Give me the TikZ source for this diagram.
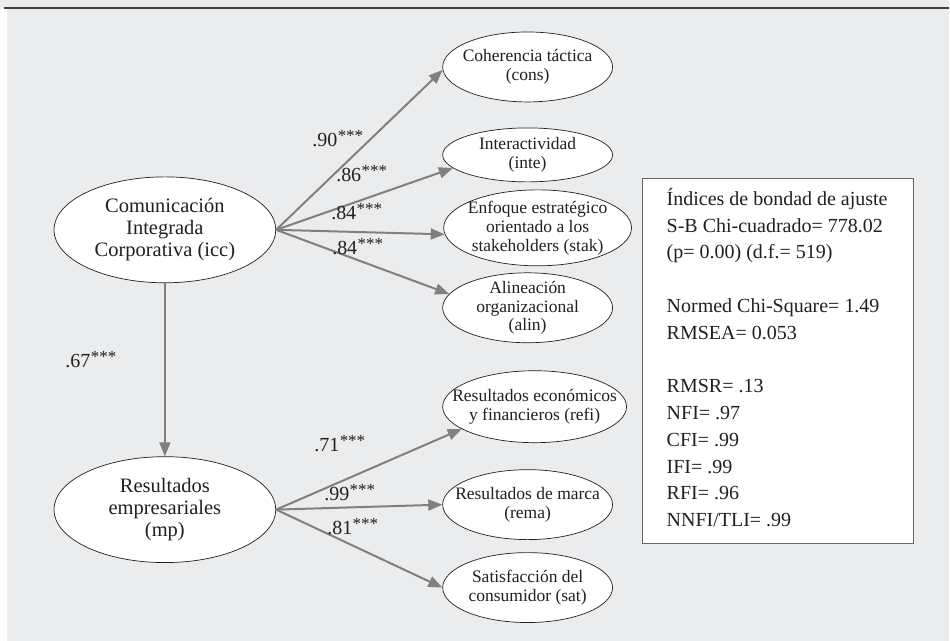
\documentclass[tikz,border=0pt]{standalone}
\usepackage{fontspec}
\setmainfont{Liberation Serif}
\usetikzlibrary{arrows.meta,shapes.geometric}
\definecolor{panel}{HTML}{EBECEE}
\definecolor{arrowgray}{HTML}{808080}
\definecolor{ink}{HTML}{231F20}
\definecolor{frame}{HTML}{666666}
% significance stars set as a raised superscript
\newcommand\sigstars{\kern0.5pt\raisebox{5pt}{\fontsize{17}{17}\selectfont***}}
\begin{document}
\begin{tikzpicture}[x=1pt,y=-1pt,
  latent/.style={ellipse,draw=ink,line width=0.7pt,fill=white,inner sep=0pt},
  ltext/.style={align=center,text=ink,inner sep=0pt,font=\fontsize{17.5}{19}\selectfont},
  btext/.style={align=center,text=ink,inner sep=0pt,font=\fontsize{20.5}{22}\selectfont},
  loading/.style={draw=arrowgray,line width=2pt,-{Triangle[length=14pt,width=11pt]}},
  coef/.style={text=ink,inner sep=0pt,font=\fontsize{20}{21}\selectfont}]
% panel background and rule
\fill[panel] (0,0) rectangle (950,641);
\fill[white] (0,9) rectangle (7,641);
\draw[ink!85,line width=1.4pt] (4,8) -- (950,8);
\useasboundingbox (0,0) rectangle (950,641);

% latent constructs
\node[latent,minimum width=222pt,minimum height=106pt] (icc) at (165,230) {};
\node[btext] at (icc) {Comunicación\\Integrada\\Corporativa (icc)};
\node[latent,minimum width=222pt,minimum height=106pt] (mp) at (165,510) {};
\node[btext] at (mp) {Resultados\\empresariales\\(mp)};

% indicators of icc
\node[latent,minimum width=170pt,minimum height=70pt] (cons) at (528,67) {};
\node[ltext] at (cons) {Coherencia táctica\\(cons)};
\node[latent,minimum width=170pt,minimum height=54pt] (inte) at (528,155) {};
\node[ltext] at (inte) {Interactividad\\(inte)};
\node[latent,minimum width=188pt,minimum height=76pt] (stak) at (538,228) {};
\node[ltext] at (stak) {Enfoque estratégico\\orientado a los\\stakeholders (stak)};
\node[latent,minimum width=170pt,minimum height=70pt] (alin) at (528,308) {};
\node[ltext] at (alin) {Alineación\\organizacional\\(alin)};

% indicators of mp
\node[latent,minimum width=184pt,minimum height=72pt] (refi) at (535,407) {};
\node[ltext] at (refi) {Resultados económicos\\y financieros (refi)};
\node[latent,minimum width=170pt,minimum height=70pt] (rema) at (528,505) {};
\node[ltext] at (rema) {Resultados de marca\\(rema)};
\node[latent,minimum width=170pt,minimum height=70pt] (sat) at (528,588) {};
\node[ltext] at (sat) {Satisfacción del\\consumidor (sat)};

% paths
\draw[loading] (icc.east) -- (cons.182);
\draw[loading] (icc.east) -- (inte.190);
\draw[loading] (icc.east) -- (stak.184);
\draw[loading] (icc.east) -- (alin.170);
\draw[loading] (icc.south) -- (mp.north);
\draw[loading] (mp.east) -- (refi.197);
\draw[loading] (mp.east) -- (rema.west);
\draw[loading] (mp.east) -- (sat.west);

% standardized coefficients
\node[coef] (c1) at (338,139) {.90\sigstars};
\node[coef] (c2) at (362,174) {.86\sigstars};
\node[coef] (c3) at (357,212) {.84\sigstars};
\node[coef] (c4) at (358,247) {.84\sigstars};
\node[coef] (c5) at (91,360) {.67\sigstars};
\node[coef] (c6) at (340,444) {.71\sigstars};
\node[coef] (c7) at (350,493) {.99\sigstars};
\node[coef] (c8) at (353,527) {.81\sigstars};

% goodness-of-fit box
\node[draw=frame,line width=1pt,fill=white,anchor=north west,minimum width=272pt,minimum height=365pt,inner sep=0pt] (fit) at (642,178) {};
\node[anchor=base west,align=left,text=ink,inner sep=0pt,font=\fontsize{20}{26.8}\selectfont] (fittext) at (667,527)
 {Índices de bondad de ajuste\\
  S-B Chi-cuadrado= 778.02\\
  (p= 0.00) (d.f.= 519)\\
  \mbox{}\\
  Normed Chi-Square= 1.49\\
  RMSEA= 0.053\\
  \mbox{}\\
  RMSR= .13\\
  NFI= .97\\
  CFI= .99\\
  IFI= .99\\
  RFI= .96\\
  NNFI/TLI= .99};
\end{tikzpicture}
\end{document}
